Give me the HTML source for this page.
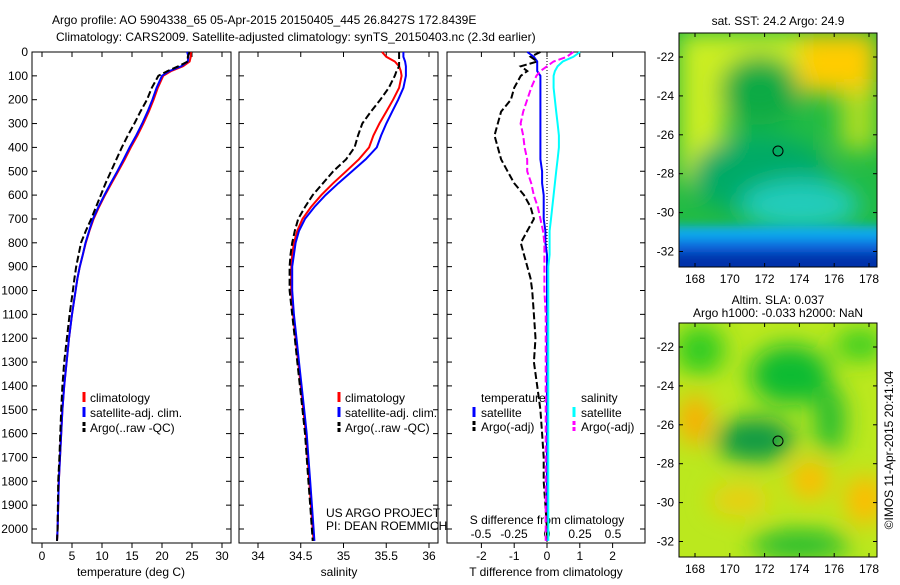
<!DOCTYPE html>
<html><head><meta charset="utf-8"><style>
body{margin:0;background:#fff;width:900px;height:580px;overflow:hidden}
svg{font-family:"Liberation Sans",sans-serif}
text{font-size:12px;fill:#000}
</style></head><body>
<svg id="fig" width="900" height="580">
<defs>
<filter id="bl" x="-50%" y="-50%" width="200%" height="200%"><feGaussianBlur stdDeviation="12"/></filter>
<filter id="bl2" x="-50%" y="-50%" width="200%" height="200%"><feGaussianBlur stdDeviation="5"/></filter>
<clipPath id="c1"><rect x="679" y="33" width="198" height="234"/></clipPath>
<clipPath id="c2"><rect x="679" y="323" width="198" height="234"/></clipPath>
</defs>
<text x="52" y="24">Argo profile: AO 5904338_65 05-Apr-2015 20150405_445 26.8427S 172.8439E</text>
<text x="56" y="41">Climatology: CARS2009. Satellite-adjusted climatology: synTS_20150403.nc (2.3d earlier)</text>

<g clip-path="url(#c1)">
<rect x="679" y="33" width="198" height="234" fill="#22bb44"/>
<g filter="url(#bl)">
<rect x="679" y="33" width="198" height="50" fill="#ccee22"/>
<rect x="679" y="33" width="45" height="150" fill="#ccee22"/>
<rect x="800" y="33" width="77" height="60" fill="#ffcc00"/>
<rect x="840" y="90" width="37" height="60" fill="#aadd22"/>
<ellipse cx="760" cy="90" rx="40" ry="35" fill="#11aa44"/>
<ellipse cx="760" cy="175" rx="70" ry="40" fill="#00aa66"/>
<ellipse cx="800" cy="205" rx="60" ry="25" fill="#22ccbb"/>
</g>
<g filter="url(#bl2)">
<rect x="670" y="226" width="220" height="20" fill="#11aaee"/>
<rect x="670" y="240" width="220" height="15" fill="#1166dd"/>
<rect x="670" y="252" width="220" height="25" fill="#0033aa"/>
</g>
</g>
<rect x="679" y="33" width="198" height="234" fill="none" stroke="#000"/>
<circle cx="778" cy="151" r="5" fill="none" stroke="#000"/>
<text x="778" y="25" text-anchor="middle">sat. SST: 24.2 Argo: 24.9</text>

<g clip-path="url(#c2)">
<rect x="679" y="323" width="198" height="234" fill="#bbe81e"/>
<g filter="url(#bl)">
<ellipse cx="700" cy="350" rx="25" ry="25" fill="#33cc22"/>
<ellipse cx="790" cy="375" rx="40" ry="30" fill="#11bb33"/>
<ellipse cx="830" cy="420" rx="15" ry="35" fill="#22bb33"/>
<ellipse cx="755" cy="440" rx="40" ry="22" fill="#119944"/>
<ellipse cx="695" cy="420" rx="16" ry="25" fill="#ffaa00"/>
<ellipse cx="810" cy="480" rx="20" ry="20" fill="#ffbb00"/>
<ellipse cx="865" cy="500" rx="20" ry="25" fill="#ffbb00"/>
<ellipse cx="740" cy="500" rx="30" ry="15" fill="#eecc11"/>
<ellipse cx="800" cy="545" rx="50" ry="15" fill="#22bb33"/>
<ellipse cx="860" cy="345" rx="25" ry="15" fill="#33cc22"/>
</g>
</g>
<rect x="679" y="323" width="198" height="234" fill="none" stroke="#000"/>
<circle cx="778" cy="441" r="5" fill="none" stroke="#000"/>
<text x="778" y="304" text-anchor="middle">Altim. SLA: 0.037</text>
<text x="778" y="317" text-anchor="middle">Argo h1000: -0.033 h2000: NaN</text>
<text transform="translate(893,450) rotate(-90)" text-anchor="middle">©IMOS 11-Apr-2015 20:41:04</text>
<g id="g"></g>
</svg>
<script>
const depths=[0,20,40,60,80,100,150,200,250,300,350,400,450,500,550,600,650,700,750,800,850,900,950,1000,1100,1200,1300,1400,1500,1600,1700,1800,1900,2000,2050];
const tClim=[24.8,24.8,24.6,23.5,21.5,20.2,19.3,18.6,17.8,16.9,15.9,14.8,13.8,12.7,11.6,10.5,9.5,8.6,7.9,7.3,6.8,6.3,5.9,5.6,5.0,4.5,4.1,3.7,3.4,3.2,3.0,2.8,2.7,2.6,2.5];
const tSat=[24.2,24.4,24.3,23.2,21.2,20.0,19.1,18.4,17.6,16.7,15.7,14.6,13.6,12.55,11.45,10.4,9.4,8.5,7.85,7.25,6.8,6.3,5.9,5.6,5.0,4.5,4.1,3.7,3.4,3.2,3.0,2.8,2.7,2.6,2.5];
const tArgo=[24.6,24.3,24.3,22.7,20.9,19.4,18.3,17.5,16.4,15.4,14.3,13.3,12.4,11.5,10.6,9.8,9.0,8.2,7.3,6.5,6.1,5.7,5.4,5.15,4.6,4.15,3.7,3.4,3.2,3.05,2.9,2.7,2.65,2.6,2.5];
const sClim=[35.45,35.5,35.6,35.65,35.67,35.68,35.65,35.58,35.5,35.42,35.35,35.3,35.18,35.03,34.88,34.74,34.62,34.52,34.46,34.42,34.4,34.39,34.39,34.39,34.41,34.44,34.47,34.5,34.53,34.56,34.58,34.6,34.62,34.64,34.65];
const sSat=[35.70,35.70,35.72,35.73,35.73,35.73,35.70,35.64,35.57,35.50,35.44,35.39,35.26,35.10,34.94,34.79,34.66,34.55,34.48,34.44,34.42,34.40,34.40,34.40,34.42,34.45,34.48,34.51,34.54,34.57,34.59,34.61,34.63,34.65,34.66];
const sArgo=[35.65,35.65,35.65,35.65,35.62,35.6,35.53,35.43,35.32,35.22,35.17,35.13,35.03,34.88,34.76,34.64,34.55,34.47,34.43,34.4,34.38,34.37,34.37,34.37,34.4,34.43,34.46,34.49,34.52,34.55,34.57,34.59,34.61,34.63,34.64];
const depthTicks=[0,100,200,300,400,500,600,700,800,900,1000,1100,1200,1300,1400,1500,1600,1700,1800,1900,2000];
const tTicks=[0,5,10,15,20,25,30];
const sTicks=[34,34.5,35,35.5,36];
const dTTicks=[-2,-1,0,1,2];
const dSTicks=[-0.5,-0.25,0,0.25,0.5];
const lonTicks=[168,170,172,174,176,178];
const latTicks=[-22,-24,-26,-28,-30,-32];

const NS='http://www.w3.org/2000/svg', G=document.getElementById('g');
function mk(t,a,p){const e=document.createElementNS(NS,t);for(const k in a)e.setAttribute(k,a[k]);(p||G).appendChild(e);return e;}
const topY=52,botY=543;
const yD=d=>topY+d*(529-52)/2000;
const xT=v=>42+v*6;
const xS=v=>258+(v-34)*85.5;
const xDT=v=>547+v*32.8;
const xDS=v=>547+v*132;
const lonX=v=>695+(v-168)*17.4;
const lat1=v=>57+(-22-v)*19.45;
const lat2=v=>347+(-22-v)*19.45;

function frame(x0,x1,name){
  const r=mk('rect',{x:x0,y:topY,width:x1-x0,height:botY-topY,fill:'none',stroke:'#000'});
  
  
  depthTicks.forEach(d=>{mk('line',{x1:x0,x2:x0+5,y1:yD(d),y2:yD(d),stroke:'#000'});mk('line',{x1:x1-5,x2:x1,y1:yD(d),y2:yD(d),stroke:'#000'});});
}
function xticks(ticks,fx,ylab){
  ticks.forEach(v=>{const x=fx(v);mk('line',{x1:x,x2:x,y1:botY,y2:botY+5,stroke:'#000'});mk('line',{x1:x,x2:x,y1:topY,y2:topY+5,stroke:'#000'});
    const t=mk('text',{x:x,y:ylab,'text-anchor':'middle'});t.textContent=v;
    
    });
}
function line(xs,fx,color,dash,name){
  const p=xs.map((v,i)=>(i?'L':'M')+fx(v).toFixed(1)+','+yD(depths[i]).toFixed(1)).join('');
  const e=mk('path',{d:p,fill:'none',stroke:color,'stroke-width':2,'stroke-dasharray':dash||'none'});
  
  
}
function txt(x,y,s,name,anchor){const t=mk('text',{x:x,y:y,'text-anchor':anchor||'start'});t.textContent=s;
  
  return t;}
function legMark(x,y,color,dash){mk('line',{x1:x,x2:x,y1:y-10,y2:y,stroke:color,'stroke-width':3,'stroke-dasharray':dash||'none'});}

// panel 1
frame(32,231,'temperature-panel');
depthTicks.forEach(d=>{txt(28,yD(d)+4,d,'y-tick-label','end');});
xticks(tTicks,xT,560);
line(tClim,xT,'#f00',null,'temp-climatology-line');
line(tSat,xT,'#00f',null,'temp-satellite-line');
line(tArgo,xT,'#000','7 3','temp-argo-line');
txt(131,576,'temperature (deg C)','x-axis-title','middle');
[['climatology','#f00'],['satellite-adj. clim.','#00f'],['Argo(..raw -QC)','#000']].forEach((l,i)=>{legMark(84,402+i*15,l[1],i==2?'4 2':null);txt(90,402+i*15,l[0],'legend-entry');});

// panel 2
frame(239,438,'salinity-panel');
xticks(sTicks,xS,560);
line(sClim,xS,'#f00',null,'sal-climatology-line');
line(sSat,xS,'#00f',null,'sal-satellite-line');
line(sArgo,xS,'#000','7 3','sal-argo-line');
txt(339,576,'salinity','x-axis-title','middle');
[['climatology','#f00'],['satellite-adj. clim.','#00f'],['Argo(..raw -QC)','#000']].forEach((l,i)=>{legMark(339,402+i*15,l[1],i==2?'4 2':null);txt(345,402+i*15,l[0],'legend-entry');});
txt(326,517,'US ARGO PROJECT','project-label');
txt(326,530,'PI: DEAN ROEMMICH','pi-label');

// panel 3
frame(447,645,'difference-panel');
mk('line',{x1:xDT(0),x2:xDT(0),y1:topY,y2:botY,stroke:'#000','stroke-dasharray':'1 2'});
xticks(dTTicks,xDT,560);
txt(546,576,'T difference from climatology','x-axis-title','middle');
txt(547,524,'S difference from climatology','s-axis-title','middle');
dSTicks.forEach(v=>txt(xDS(v),538,v,'s-tick-label','middle'));
line(tSat.map((v,i)=>v-tClim[i]),xDT,'#00f',null,'t-diff-satellite');
line(tArgo.map((v,i)=>v-tClim[i]),xDT,'#000','7 3','t-diff-argo');
line(sSat.map((v,i)=>v-sClim[i]),xDS,'#0ff',null,'s-diff-satellite');
line(sArgo.map((v,i)=>v-sClim[i]),xDS,'#f0f','7 3','s-diff-argo');
txt(481,402,'temperature','legend-header');
txt(581,402,'salinity','legend-header');
legMark(474,417,'#00f');txt(481,417,'satellite','legend-entry');
legMark(474,431,'#000','4 2');txt(481,431,'Argo(-adj)','legend-entry');
legMark(574,417,'#0ff');txt(581,417,'satellite','legend-entry');
legMark(574,431,'#f0f','4 2');txt(581,431,'Argo(-adj)','legend-entry');

// map ticks
[[33,267,lat1],[323,557,lat2]].forEach(([y0,y1,fl])=>{
  lonTicks.forEach(v=>{const x=lonX(v);mk('line',{x1:x,x2:x,y1:y0,y2:y0+4,stroke:'#000'});mk('line',{x1:x,x2:x,y1:y1-4,y2:y1,stroke:'#000'});txt(x,y1+16,v,'lon-tick-label','middle');});
  latTicks.forEach(v=>{const y=fl(v);mk('line',{x1:679,x2:683,y1:y,y2:y,stroke:'#000'});mk('line',{x1:873,x2:877,y1:y,y2:y,stroke:'#000'});txt(674,y+4,v,'lat-tick-label','end');});
});
</script>
</body></html>
